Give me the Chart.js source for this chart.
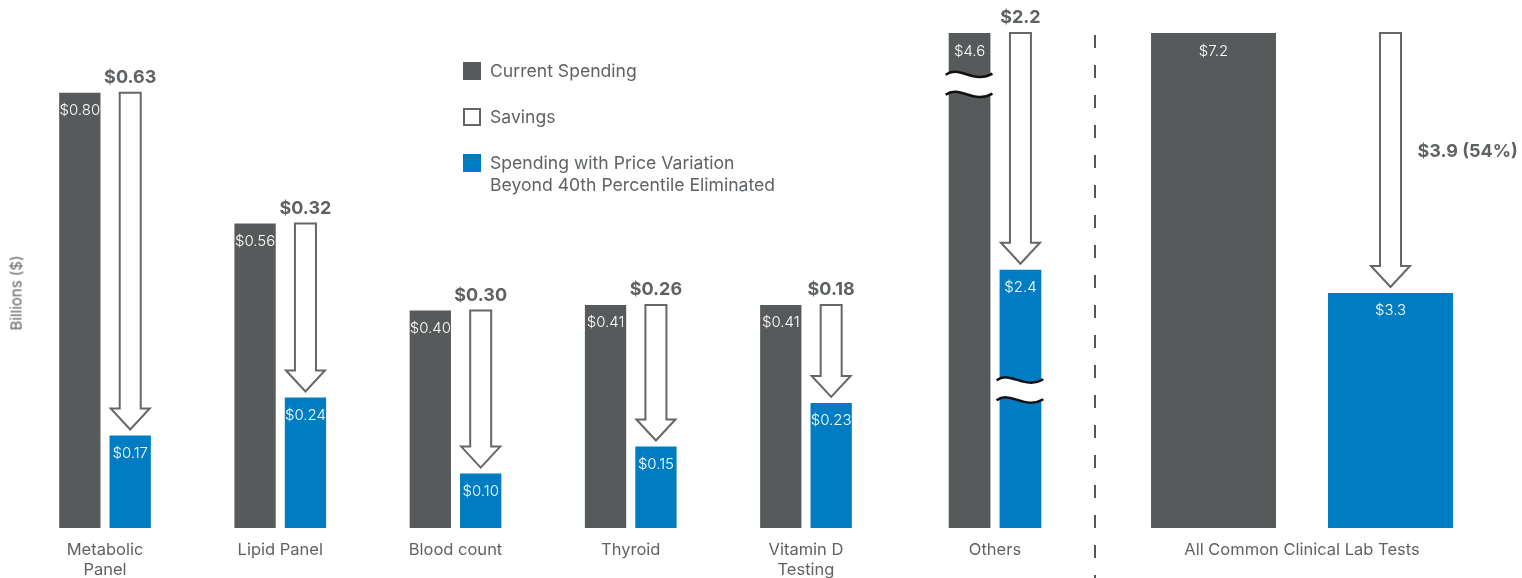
<!DOCTYPE html>
<html>
<head>
<meta charset="utf-8">
<script src="https://cdn.jsdelivr.net/npm/chart.js@4/dist/chart.umd.min.js"></script>
<style>
    body { margin: 0; background: #fff; font-family: Inter, "Noto Sans", sans-serif; }
    #wrap { position: relative; width: 1522px; height: 578px; overflow: hidden; }
    canvas { position: absolute; top: 0; }
    #testsChart { left: 0; }
    #othersChart { left: 900px; }
    #allChart { left: 1094px; }
    .yTitle { position: absolute; left: 16px; top: 293px; transform: translate(-50%, -50%) rotate(-90deg); color: #5f6264; font-size: 15px; white-space: nowrap; }
    .key { position: absolute; left: 463px; width: 18px; height: 18px; box-sizing: border-box; }
    .keyText { position: absolute; left: 490px; color: #5f6264; font-size: 17.6px; line-height: 22px; white-space: nowrap; }
</style>
</head>
<body>
<div id="wrap">
    <canvas id="testsChart" width="900" height="578"></canvas>
    <canvas id="othersChart" width="194" height="578"></canvas>
    <canvas id="allChart" width="428" height="578"></canvas>
    <div class="yTitle">Billions ($)</div>
    <div class="key" style="top:62px;background:#575a5b"></div>
    <div class="keyText" style="top:60px">Current Spending</div>
    <div class="key" style="top:108px;border:2px solid #666"></div>
    <div class="keyText" style="top:106px">Savings</div>
    <div class="key" style="top:154px;background:#007cc3"></div>
    <div class="keyText" style="top:152px">Spending with Price Variation<br>Beyond 40th Percentile Eliminated</div>
</div>
<script>
const categories = [["Metabolic", "Panel"], "Lipid Panel", "Blood count", "Thyroid", ["Vitamin D", "Testing"]];
const currentSpending = [0.80, 0.56, 0.40, 0.41, 0.41];
const reducedSpending = [0.17, 0.24, 0.10, 0.15, 0.23];
const savings = [0.63, 0.32, 0.30, 0.26, 0.18];

const othersCategory = ["Others"];
const othersCurrent = [4.6];
const othersReduced = [2.4];
const othersSavings = [2.2];

const allCategory = ["All Common Clinical Lab Tests"];
const allCurrent = [7.2];
const allReduced = [3.3];
const allSavings = [3.9];
const allSavingsPct = [54];

const GREY = "#575a5b";
const BLUE = "#007cc3";
const TEXT = "#5f6264";

Chart.defaults.font.family = "Inter, 'Noto Sans', sans-serif";

function money(v) {
    return "$" + (v < 1 ? v.toFixed(2) : v.toFixed(1));
}

function drawArrow(ctx, x, top, tip) {
    const sw = 10.5, hw = 19.5, hh = 21;
    ctx.beginPath();
    ctx.moveTo(x - sw, top);
    ctx.lineTo(x + sw, top);
    ctx.lineTo(x + sw, tip - hh);
    ctx.lineTo(x + hw, tip - hh);
    ctx.lineTo(x, tip);
    ctx.lineTo(x - hw, tip - hh);
    ctx.lineTo(x - sw, tip - hh);
    ctx.closePath();
    ctx.fillStyle = "#fff";
    ctx.fill();
    ctx.strokeStyle = "#666";
    ctx.lineWidth = 2;
    ctx.stroke();
}

// hollow arrows, savings numbers and the white value labels
const savingsArrows = {
    id: "savingsArrows",
    afterDatasetsDraw(chart, args, opts) {
        const ctx = chart.ctx;
        const areaTop = chart.chartArea.top;
        const barsA = chart.getDatasetMeta(0).data;
        const barsB = chart.getDatasetMeta(1).data;
        ctx.save();
        barsA.forEach((barA, i) => {
            const top = Math.max(barA.y, areaTop);
            const x = barsB[i].x;
            const tip = barsB[i].y - 6;
            drawArrow(ctx, x, top, tip);
            ctx.fillStyle = TEXT;
            ctx.font = "bold 18px Inter, 'Noto Sans', sans-serif";
            ctx.textBaseline = "middle";
            if (opts.side === "right") {
                ctx.textAlign = "left";
                ctx.fillText(money(opts.savings[i]) + " (" + opts.pct[i] + "%)", x + 27, (top + tip) / 2 - 8);
            } else {
                ctx.textAlign = "center";
                ctx.fillText(money(opts.savings[i]), x, top - 15);
            }
        });
        ctx.fillStyle = "#fff";
        ctx.font = "300 15px Inter, 'Noto Sans', sans-serif";
        ctx.textAlign = "center";
        ctx.textBaseline = "middle";
        chart.data.datasets.forEach((ds, d) => {
            const bars = chart.getDatasetMeta(d).data;
            ds.data.forEach((v, i) => {
                ctx.fillText(money(v), bars[i].x, Math.max(bars[i].y, areaTop) + 18);
            });
        });
        ctx.restore();
    }
};

// wavy axis-break marks on the Others bars
const barBreaks = {
    id: "barBreaks",
    afterDatasetsDraw(chart, args, opts) {
        const ctx = chart.ctx;
        ctx.save();
        opts.breaks.forEach((br) => {
            const meta = chart.getDatasetMeta(br.dataset);
            const bar = meta.data[0];
            const y = chart.scales.y.getPixelForValue(br.value);
            const x0 = bar.x - bar.width / 2 - 3;
            const x1 = bar.x + bar.width / 2 + 2;
            const w = x1 - x0;
            const y1 = y - 10, y2 = y + 10;
            ctx.beginPath();
            ctx.moveTo(x0, y1);
            ctx.bezierCurveTo(x0 + w * 0.3, y1 - 10, x0 + w * 0.6, y1 + 10, x1, y1 - 1);
            ctx.lineTo(x1, y2 - 1);
            ctx.bezierCurveTo(x0 + w * 0.6, y2 + 10, x0 + w * 0.3, y2 - 10, x0, y2);
            ctx.closePath();
            ctx.fillStyle = "#fff";
            ctx.fill();
            ctx.strokeStyle = "#111";
            ctx.lineWidth = 2.5;
            ctx.beginPath();
            ctx.moveTo(x0, y1);
            ctx.bezierCurveTo(x0 + w * 0.3, y1 - 10, x0 + w * 0.6, y1 + 10, x1, y1 - 1);
            ctx.moveTo(x0, y2);
            ctx.bezierCurveTo(x0 + w * 0.3, y2 - 10, x0 + w * 0.6, y2 + 10, x1, y2 - 1);
            ctx.stroke();
        });
        ctx.restore();
    }
};

const divider = {
    id: "divider",
    beforeDraw(chart) {
        const ctx = chart.ctx;
        ctx.save();
        ctx.strokeStyle = "#555";
        ctx.lineWidth = 2;
        ctx.setLineDash([13, 17]);
        ctx.beginPath();
        ctx.moveTo(1, 35);
        ctx.lineTo(1, chart.height);
        ctx.stroke();
        ctx.restore();
    }
};

function xAxis() {
    return {
        grid: { display: false, drawTicks: false },
        border: { display: false },
        ticks: { color: TEXT, font: { size: 16.5, lineHeight: 1.22 }, padding: 12, autoSkip: false, maxRotation: 0 },
        afterFit(scale) { scale.height = 50; }
    };
}

function makeChart(id, labels, current, reduced, yMax, padding, barOpts, plugins, pluginOpts) {
    return new Chart(document.getElementById(id), {
        type: "bar",
        data: {
            labels: labels,
            datasets: [
                { data: current, backgroundColor: GREY },
                { data: reduced, backgroundColor: BLUE },
            ],
        },
        options: {
            responsive: false,
            animation: false,
            layout: { padding: padding },
            datasets: { bar: barOpts },
            plugins: Object.assign({ legend: { display: false }, tooltip: { enabled: false } }, pluginOpts),
            scales: {
                x: xAxis(),
                y: { display: false, min: 0, max: yMax },
            },
        },
        plugins: plugins,
    });
}

const smallBars = { categoryPercentage: 0.575, barPercentage: 0.82 };

makeChart("testsChart", categories, currentSpending, reducedSpending, 0.91,
    { top: 33, left: 17.4, right: 6.4, bottom: 0 }, smallBars,
    [savingsArrows], { savingsArrows: { savings: savings } });

makeChart("othersChart", othersCategory, othersCurrent, othersReduced, 4.6,
    { top: 33, left: 6.5, right: 10.5, bottom: 0 }, smallBars,
    [barBreaks, savingsArrows],
    { savingsArrows: { savings: othersSavings }, barBreaks: { breaks: [{ dataset: 0, value: 4.12 }, { dataset: 1, value: 1.28 }] } });

makeChart("allChart", allCategory, allCurrent, allReduced, 6.95,
    { top: 33, left: 26, right: 38, bottom: 0 }, { categoryPercentage: 0.9725, barPercentage: 0.706 },
    [divider, savingsArrows],
    { savingsArrows: { savings: allSavings, pct: allSavingsPct, side: "right" } });
</script>
</body>
</html>
